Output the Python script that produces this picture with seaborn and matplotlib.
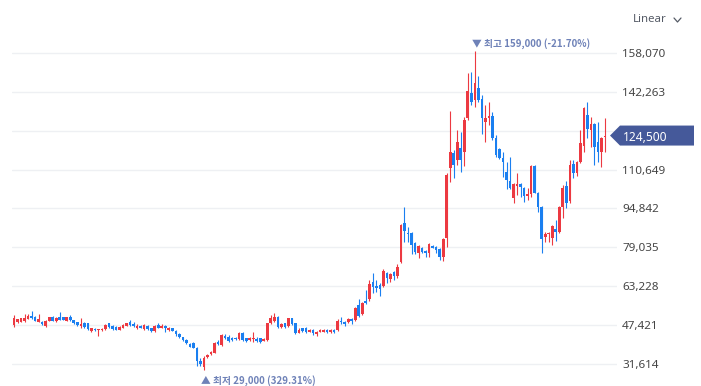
import numpy as np
import matplotlib
matplotlib.use("Agg")
import matplotlib.pyplot as plt
import seaborn as sns
from matplotlib.patches import Polygon
from matplotlib.lines import Line2D
from matplotlib.transforms import IdentityTransform

# weekly candles (KRW)
opens = [47470, 48560, 48830, 49230, 49910, 51130, 50860, 48830, 48830, 47200,
         49230, 50860, 49100, 50860, 50590, 49230, 50860, 49370, 48560, 47070,
         48290, 48150, 45030, 45980, 45300, 45300, 45850, 48150, 46930, 46660,
         45580, 46390, 47200, 48560, 48010, 46120, 47200, 45850, 47200, 46120,
         45030, 47470, 46390, 47200, 45440, 46120, 45170, 43810, 42460, 41510,
         39880, 40290, 38260, 32840, 30400, 34460, 35680, 36220, 40420, 39340,
         43130, 42730, 42050, 42320, 41780, 44080, 42050, 41370, 41640, 41640,
         42050, 41100, 41370, 48150, 49230, 50860, 46520, 48150, 47060, 50180,
         48150, 44350, 46120, 46390, 44760, 45440, 43810, 44760, 44760, 45440,
         44630, 45440, 45440, 49230, 48830, 48830, 50050, 49500, 55600, 51950,
         57370, 57910, 65090, 63330, 63740, 63330, 68480, 66040, 69160, 67400,
         73220, 89080, 85010, 84740, 80950, 76610, 78920, 77700, 76880, 79730,
         79320, 78240, 75260, 82710, 111440, 117270, 114560, 119580, 117950, 131770,
         141670, 138960, 143970, 139360, 130150, 131500, 132590, 123640, 119030, 115510,
         109550, 106020, 99250, 104130, 104670, 103310, 100060, 100600, 112120, 101280,
         95590, 83390, 84340, 82980, 86500, 85150, 95590, 104130, 97890, 112800,
         109140, 113880, 120390, 132860, 126760, 129200, 122020, 117950, 124000]
highs = [51540, 50050, 50450, 51810, 51810, 53160, 51130, 51810, 49100, 49640,
         50860, 51130, 50720, 52890, 50860, 50860, 51540, 49640, 48830, 50180,
         48560, 48420, 46390, 46250, 45980, 46120, 47740, 48420, 47470, 46930,
         46930, 47880, 48420, 49500, 48560, 47740, 47470, 47740, 47470, 46390,
         47470, 48150, 47740, 47470, 46660, 46390, 45440, 44080, 42730, 41780,
         40150, 40560, 38530, 34190, 34870, 35680, 36900, 40420, 41370, 43680,
         43680, 43410, 42460, 42730, 44490, 44490, 42320, 42730, 44760, 42730,
         42320, 42050, 48420, 51540, 52210, 51130, 48150, 48420, 50450, 50450,
         48420, 46120, 46390, 46790, 45980, 45710, 45170, 45710, 45980, 45710,
         45710, 45710, 49780, 50590, 49100, 50180, 50320, 54930, 57910, 56690,
         61700, 65770, 68480, 65770, 64690, 70240, 69160, 68480, 69430, 72140,
         88540, 95590, 87450, 85420, 81360, 79990, 79320, 77970, 80680, 79990,
         79590, 78650, 82710, 109140, 134620, 118630, 126760, 126080, 132180, 149800,
         150480, 159000, 148850, 140990, 136920, 138010, 134210, 124730, 119300, 117680,
         113880, 115920, 105070, 109140, 105070, 103720, 103040, 112530, 112390, 101690,
         95860, 85420, 85420, 88130, 90170, 95860, 104400, 106020, 114560, 114560,
         114150, 126760, 136250, 138280, 132180, 129470, 130150, 123910, 131640]
lows = [46790, 48420, 48560, 48830, 49780, 49910, 49100, 48560, 47470, 46660,
        49100, 49100, 48830, 49370, 49370, 48960, 49100, 47880, 47070, 46390,
        46390, 45580, 44760, 45030, 43140, 45030, 45580, 46120, 45440, 45300,
        45300, 46120, 46930, 47200, 46660, 45850, 46120, 45580, 45580, 44760,
        44490, 46120, 46120, 44760, 45170, 44900, 43140, 42320, 40960, 39750,
        38390, 37990, 30940, 30800, 29000, 34190, 35270, 35950, 39340, 39070,
        41640, 40700, 41100, 41370, 41370, 40960, 40700, 41100, 40700, 40700,
        40290, 40830, 41100, 47740, 48830, 46120, 46120, 46120, 46790, 47470,
        43680, 44080, 44760, 44080, 44490, 43410, 43140, 44490, 44490, 44080,
        44350, 44080, 45170, 47880, 47070, 48420, 48020, 48960, 50590, 51540,
        56010, 57240, 60620, 61020, 59400, 62790, 64690, 65090, 65770, 66720,
        72540, 81360, 81360, 76340, 76340, 74580, 76610, 75260, 75260, 78650,
        76610, 73900, 73630, 79320, 105750, 107380, 112530, 109820, 112260, 130820,
        136920, 136250, 138280, 124990, 122020, 128790, 122690, 115920, 115100, 107790,
        102770, 102770, 96940, 100330, 99650, 97620, 98300, 99650, 101010, 93550,
        76610, 81360, 81360, 79990, 81630, 84740, 91110, 94910, 96940, 107380,
        108190, 113210, 117680, 123370, 119980, 112530, 113880, 111850, 117810]
closes = [50450, 49780, 50180, 50450, 51130, 50180, 49230, 49910, 47740, 49230,
          50590, 49230, 50450, 49640, 49640, 50590, 49370, 48150, 47470, 47740,
          46660, 45850, 46120, 45300, 45850, 45980, 47470, 46520, 45850, 45580,
          46660, 47470, 48150, 47470, 46930, 47200, 46390, 47470, 45850, 45030,
          47200, 46390, 47200, 46390, 46390, 45170, 43810, 42590, 41240, 40020,
          38660, 38260, 32840, 31620, 34050, 35270, 36630, 40020, 39750, 43410,
          42320, 41100, 41370, 41640, 44080, 41370, 41100, 42320, 42050, 40960,
          40420, 41640, 48150, 50180, 50860, 46520, 47880, 46520, 50180, 47880,
          44080, 45440, 45030, 44760, 45440, 44080, 44760, 45440, 45440, 44760,
          45440, 44630, 49230, 48560, 47880, 49780, 49230, 54250, 51130, 56280,
          56280, 64150, 62790, 62380, 61970, 69430, 66450, 68210, 67400, 70920,
          88130, 85690, 84340, 80000, 77290, 79590, 77020, 76880, 80410, 78920,
          77970, 74990, 82300, 108460, 117680, 112530, 122020, 114560, 130820, 142620,
          138010, 145730, 138960, 131500, 131770, 132590, 123640, 116590, 115510, 113880,
          106430, 103310, 104670, 104670, 103720, 100060, 100600, 112120, 101280, 95590,
          82440, 84340, 85010, 87720, 85150, 95590, 103310, 97210, 112530, 109140,
          113880, 121610, 135570, 127170, 129060, 119980, 117680, 123640, 124500]

y_ticks = [31614, 47421, 63228, 79035, 94842, 110649, 126456, 142263, 158070]
scale_label = "Linear"

UP = "#ec3941"
DOWN = "#1a7ff0"
LABEL_BLUE = "#6f82b8"
BADGE = "#45599a"

sns.set_theme(style="white")
plt.rcParams['font.family'] = ['Noto Sans', 'Noto Sans CJK KR', 'DejaVu Sans']

o = np.array(opens)
h = np.array(highs)
l = np.array(lows)
c = np.array(closes)
idx = np.arange(len(c))
colors = np.where(c >= o, UP, DOWN)

fig = plt.figure(figsize=(7.01, 3.86), dpi=100)
ax = fig.add_axes([12 / 701, 0, 605 / 701, 356 / 386])

# wicks and bodies
ax.vlines(idx, l, h, colors=colors, linewidth=0.8, zorder=2)
body_low = np.minimum(o, c)
body_h = np.maximum(np.abs(c - o), 400)
ax.bar(idx, body_h, bottom=body_low, width=0.75, color=colors, linewidth=0, zorder=3)

ax.set_xlim(-0.57, 171.41)
ax.set_ylim(22670, 167420)
ax.set_xticks([])
ax.set_yticks(y_ticks)
ax.set_yticklabels([f"{v:,}" for v in y_ticks])
ax.yaxis.tick_right()
ax.tick_params(axis='y', length=0, pad=3.6, labelsize=8.4, labelcolor='#454545')
ax.grid(axis='y', color='#eef0f3', linewidth=1)
ax.set_axisbelow(True)
sns.despine(ax=ax, left=True, bottom=True, right=True, top=True)

# high / low markers
hi = int(np.argmax(h))
lo = int(np.argmin(l))
last = c[-1]
cjk = ['Noto Sans CJK KR', 'DejaVu Sans']
ax.annotate(f"▼ 최고 {h[hi]:,} ({(last - h[hi]) / h[hi] * 100:.2f}%)",
            xy=(hi, h[hi]), xytext=(-2.2, 5.5), textcoords='offset points',
            ha='left', va='center', fontsize=7.0, color=LABEL_BLUE,
            fontweight='bold', family=cjk, annotation_clip=False)
ax.annotate(f"▲ 최저 {l[lo]:,} ({(last - l[lo]) / l[lo] * 100:.2f}%)",
            xy=(lo, l[lo]), xytext=(-2.2, -6.9), textcoords='offset points',
            ha='left', va='center', fontsize=7.0, color=LABEL_BLUE,
            fontweight='bold', family=cjk, annotation_clip=False)

# current price badge on the axis
_, yc = ax.transData.transform((0, last))
xr = ax.transAxes.transform((1, 0))[0]
tip = xr - 7
badge = Polygon([(tip, yc), (tip + 10, yc + 10), (tip + 84, yc + 10),
                 (tip + 84, yc - 10), (tip + 10, yc - 10)],
                closed=True, transform=IdentityTransform(), fc=BADGE, ec='none')
fig.add_artist(badge)
fig.text(xr + 6, yc, f"{last:,}", transform=IdentityTransform(), color='white',
         fontsize=8.6, fontweight='bold', ha='left', va='center_baseline')

# scale selector
fig.text(633 / 701, 1 - 20 / 386, scale_label, fontsize=8.2, color='#555b66',
         ha='left', va='center')
fig.add_artist(Line2D([674 / 701, 677.5 / 701, 681 / 701],
                      [1 - 18 / 386, 1 - 22 / 386, 1 - 18 / 386],
                      transform=fig.transFigure, color='#555b66', linewidth=0.9))

fig.savefig("out.png", dpi=100)
